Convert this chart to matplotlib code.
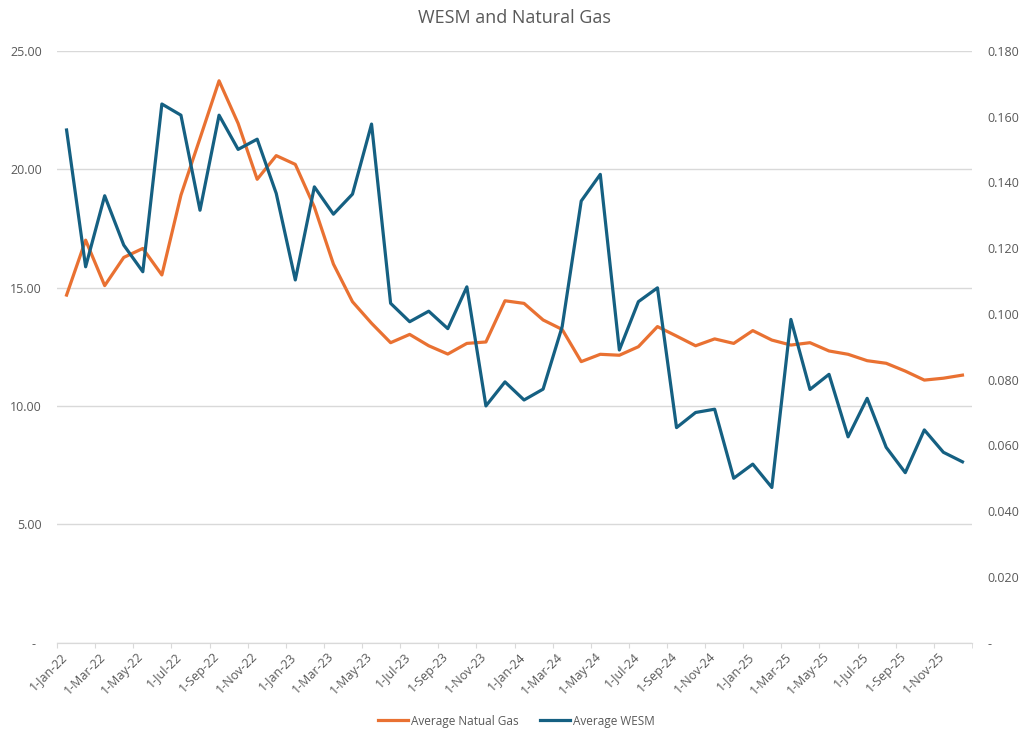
import matplotlib.pyplot as plt
import numpy as np
from matplotlib.transforms import ScaledTranslation

plt.rcParams["font.family"] = ["Open Sans", "DejaVu Sans"]

# monthly averages, Jan-22 .. Dec-25
months = [
    "Jan-22", "Feb-22", "Mar-22", "Apr-22", "May-22", "Jun-22",
    "Jul-22", "Aug-22", "Sep-22", "Oct-22", "Nov-22", "Dec-22",
    "Jan-23", "Feb-23", "Mar-23", "Apr-23", "May-23", "Jun-23",
    "Jul-23", "Aug-23", "Sep-23", "Oct-23", "Nov-23", "Dec-23",
    "Jan-24", "Feb-24", "Mar-24", "Apr-24", "May-24", "Jun-24",
    "Jul-24", "Aug-24", "Sep-24", "Oct-24", "Nov-24", "Dec-24",
    "Jan-25", "Feb-25", "Mar-25", "Apr-25", "May-25", "Jun-25",
    "Jul-25", "Aug-25", "Sep-25", "Oct-25", "Nov-25", "Dec-25",
]

natural_gas = [
    14.68, 17.00, 15.08, 16.27, 16.65, 15.53, 18.90, 21.30, 23.73, 21.93, 19.57, 20.57,
    20.20, 18.40, 15.99, 14.40, 13.49, 12.67, 13.02, 12.54, 12.19, 12.64, 12.70, 14.44,
    14.33, 13.63, 13.23, 11.87, 12.18, 12.14, 12.50, 13.35, 12.95, 12.54, 12.83, 12.64,
    13.18, 12.78, 12.57, 12.67, 12.32, 12.18, 11.91, 11.80, 11.47, 11.09, 11.17, 11.30,
]

wesm = [
    0.1559, 0.1143, 0.1359, 0.1209, 0.1128, 0.1638, 0.1604, 0.1315, 0.1604, 0.1500, 0.1531, 0.1366,
    0.1103, 0.1386, 0.1303, 0.1364, 0.1577, 0.1032, 0.0976, 0.1008, 0.0955, 0.1082, 0.0720, 0.0793,
    0.0738, 0.0771, 0.0961, 0.1343, 0.1424, 0.0890, 0.1037, 0.1079, 0.0654, 0.0700, 0.0710, 0.0500,
    0.0543, 0.0472, 0.0983, 0.0770, 0.0816, 0.0626, 0.0743, 0.0594, 0.0517, 0.0647, 0.0579, 0.0550,
]

tick_labels = [
    "1-Jan-22", "1-Mar-22", "1-May-22", "1-Jul-22", "1-Sep-22", "1-Nov-22",
    "1-Jan-23", "1-Mar-23", "1-May-23", "1-Jul-23", "1-Sep-23", "1-Nov-23",
    "1-Jan-24", "1-Mar-24", "1-May-24", "1-Jul-24", "1-Sep-24", "1-Nov-24",
    "1-Jan-25", "1-Mar-25", "1-May-25", "1-Jul-25", "1-Sep-25", "1-Nov-25",
]

gas_ticks = [0, 5, 10, 15, 20, 25]
gas_tick_labels = ["-  ", "5.00", "10.00", "15.00", "20.00", "25.00"]
wesm_ticks = [0, 0.02, 0.04, 0.06, 0.08, 0.10, 0.12, 0.14, 0.16, 0.18]
wesm_tick_labels = ["-", "0.020", "0.040", "0.060", "0.080", "0.100",
                    "0.120", "0.140", "0.160", "0.180"]

text_color = "#595959"
grid_color = "#D9D9D9"

# points sit in the middle of each month slot
x = np.arange(len(months)) + 0.5

fig = plt.figure(figsize=(10.24, 7.32), dpi=100)
ax = fig.add_axes([0.0557, 0.122, 0.8935, 0.8087])
ax2 = ax.twinx()

line_gas, = ax.plot(x, natural_gas, color="#E97132", linewidth=2.3,
                    label="Average Natual Gas")
line_wesm, = ax2.plot(x, wesm, color="#156082", linewidth=2.3,
                      label="Average WESM")

ax.set_xlim(0, len(months))
ax.set_ylim(0, 25)
ax2.set_ylim(0, 0.18)

ax.set_xticks(np.arange(0, len(months), 2))
ax.set_xticklabels(tick_labels, rotation=45, ha="right", va="center",
                   rotation_mode="anchor", color=text_color, fontsize=9)
ax.set_xticks([len(months)], minor=True)
ax.tick_params(axis="x", which="both", length=3.6, color=grid_color, pad=5)
shift = ScaledTranslation(6 / 72, 0, fig.dpi_scale_trans)
for lbl in ax.get_xticklabels():
    lbl.set_transform(lbl.get_transform() + shift)

ax.set_yticks(gas_ticks)
ax.set_yticklabels(gas_tick_labels, color=text_color, fontsize=9)
ax.tick_params(axis="y", length=0, pad=10.8)

ax2.set_yticks(wesm_ticks)
ax2.set_yticklabels(wesm_tick_labels, color=text_color, fontsize=9)
ax2.tick_params(axis="y", length=0, pad=11.3)

ax.grid(True, axis="y", color=grid_color, linewidth=1)
ax.set_axisbelow(True)

for a in (ax, ax2):
    for side in ("top", "left", "right"):
        a.spines[side].set_visible(False)
    a.spines["bottom"].set_color(grid_color)

fig.text(0.502, 0.975, "WESM and Natural Gas", ha="center", va="center",
         fontsize=13, color=text_color)

fig.legend(handles=[line_gas, line_wesm], loc="center",
           bbox_to_anchor=(0.504, 0.015), ncol=2, frameon=False,
           fontsize=8.5, handlelength=2.6, handletextpad=0.2,
           columnspacing=1.8, labelcolor=text_color)

fig.savefig("out.png", dpi=100)
